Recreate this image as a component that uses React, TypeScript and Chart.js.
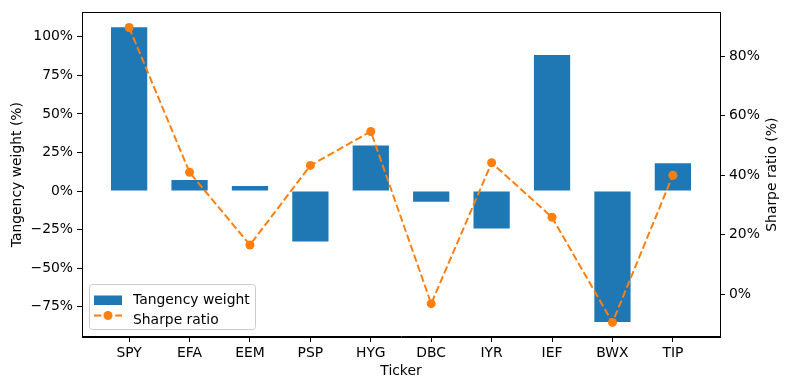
import React, { useEffect, useRef } from "react";
import { Chart, registerables } from "chart.js";

Chart.register(...registerables);

const categories = ["SPY", "EFA", "EEM", "PSP", "HYG", "DBC", "IYR", "IEF", "BWX", "TIP"];
const tangencyWeight = [106.2, 7.1, 3.2, -32.8, 29.6, -6.9, -24.3, 88.2, -85.0, 18.0];
const sharpeRatio = [89.6, 41.0, 16.6, 43.3, 54.7, -3.1, 44.2, 25.9, -9.4, 40.0];
const leftTicks = [-75, -50, -25, 0, 25, 50, 75, 100];
const rightTicks = [0, 20, 40, 60, 80];

const FONT = "'DejaVu Sans', sans-serif";
const FS = 13.9;
const BLUE = "#1f77b4";
const ORANGE = "#ff7f0e";

const fmtPct = (v: number) => (v < 0 ? "\u2212" + Math.abs(v) : String(v)) + "%";

const extrasPlugin = {
  id: "extras",
  afterDatasetsDraw(chart: any) {
    const { ctx, chartArea } = chart;
    const { left, right, top, bottom } = chartArea;
    ctx.save();
    // frame
    ctx.strokeStyle = "#000";
    ctx.lineWidth = 1;
    ctx.strokeRect(Math.round(left) + 0.5, Math.round(top) + 0.5, Math.round(right - left), Math.round(bottom - top));
    // right title (bottom-to-top)
    ctx.fillStyle = "#000";
    ctx.font = `${FS}px ${FONT}`;
    ctx.textAlign = "center";
    ctx.textBaseline = "middle";
    ctx.translate(772, (top + bottom) / 2);
    ctx.rotate(-Math.PI / 2);
    ctx.fillText("Sharpe ratio (%)", 0, 0);
    ctx.restore();

    // legend
    ctx.save();
    const bx = left + 7.5, by = bottom - 52.5, bw = 166, bh = 45;
    ctx.beginPath();
    const r = 3;
    ctx.moveTo(bx + r, by);
    ctx.lineTo(bx + bw - r, by);
    ctx.arcTo(bx + bw, by, bx + bw, by + r, r);
    ctx.lineTo(bx + bw, by + bh - r);
    ctx.arcTo(bx + bw, by + bh, bx + bw - r, by + bh, r);
    ctx.lineTo(bx + r, by + bh);
    ctx.arcTo(bx, by + bh, bx, by + bh - r, r);
    ctx.lineTo(bx, by + r);
    ctx.arcTo(bx, by, bx + r, by, r);
    ctx.closePath();
    ctx.fillStyle = "rgba(255,255,255,0.8)";
    ctx.fill();
    ctx.strokeStyle = "#cccccc";
    ctx.lineWidth = 1;
    ctx.stroke();

    const sx = bx + 4.5;
    ctx.fillStyle = BLUE;
    ctx.fillRect(sx, by + 11, 28, 9.5);
    ctx.strokeStyle = ORANGE;
    ctx.lineWidth = 2;
    ctx.setLineDash([7.4, 3.2]);
    ctx.beginPath();
    ctx.moveTo(sx, by + 31);
    ctx.lineTo(sx + 28, by + 31);
    ctx.stroke();
    ctx.setLineDash([]);
    ctx.fillStyle = ORANGE;
    ctx.beginPath();
    ctx.arc(sx + 14, by + 31, 4.5, 0, Math.PI * 2);
    ctx.fill();

    ctx.fillStyle = "#000";
    ctx.font = `${FS}px ${FONT}`;
    ctx.textAlign = "left";
    ctx.textBaseline = "middle";
    ctx.fillText("Tangency weight", sx + 39, by + 16);
    ctx.fillText("Sharpe ratio", sx + 39, by + 36);
    ctx.restore();
  },
};

export default function App() {
  const ref = useRef<HTMLCanvasElement | null>(null);

  useEffect(() => {
    document.body.style.margin = "0";
    if (!ref.current) return;
    const chart = new Chart(ref.current, {
      type: "bar",
      data: {
        datasets: [
          {
            type: "bar",
            label: "Tangency weight",
            data: tangencyWeight.map((v, i) => ({ x: i, y: v })),
            backgroundColor: BLUE,
            borderWidth: 0,
            barPercentage: 0.6,
            categoryPercentage: 1,
            xAxisID: "x",
            yAxisID: "y",
            order: 2,
          } as any,
          {
            type: "line",
            label: "Sharpe ratio",
            data: sharpeRatio.map((v, i) => ({ x: i, y: v })),
            borderColor: ORANGE,
            backgroundColor: ORANGE,
            borderWidth: 2,
            borderDash: [7.4, 3.2],
            pointRadius: 4.5,
            pointBackgroundColor: ORANGE,
            pointBorderWidth: 0,
            tension: 0,
            xAxisID: "x",
            yAxisID: "y2",
            order: 1,
          } as any,
        ],
      },
      options: {
        animation: false,
        responsive: false,
        maintainAspectRatio: false,
        layout: { padding: { top: 10, left: 0, right: 0, bottom: 0 } },
        plugins: { legend: { display: false }, tooltip: { enabled: false } },
        scales: {
          x: {
            type: "linear",
            min: -0.78,
            max: 9.78,
            offset: false,
            afterBuildTicks: (s: any) => {
              s.ticks = categories.map((_, i) => ({ value: i }));
            },
            afterFit: (s: any) => {
              s.height = 53;
            },
            ticks: {
              callback: (v: any) => categories[v as number] ?? "",
              color: "#000",
              font: { family: FONT, size: FS },
              padding: 3,
              maxRotation: 0,
              autoSkip: false,
            },
            grid: { display: true, drawOnChartArea: false, tickLength: 5, color: "#000", offset: false },
            border: { display: true, color: "#000" },
            title: {
              display: true,
              text: "Ticker",
              color: "#000",
              font: { family: FONT, size: FS },
              padding: { top: 0, bottom: 10 },
            },
          },
          y: {
            type: "linear",
            position: "left",
            min: -94.7,
            max: 115.9,
            afterBuildTicks: (s: any) => {
              s.ticks = leftTicks.map((v) => ({ value: v }));
            },
            afterFit: (s: any) => {
              s.width = 82;
            },
            ticks: {
              callback: (v: any) => fmtPct(v as number),
              color: "#000",
              font: { family: FONT, size: FS },
              padding: 4,
            },
            grid: { display: true, drawOnChartArea: false, tickLength: 5, color: "#000" },
            border: { display: true, color: "#000" },
            title: {
              display: true,
              text: "Tangency weight (%)",
              color: "#000",
              font: { family: FONT, size: FS },
              padding: { top: 9, bottom: 0 },
            },
          },
          y2: {
            type: "linear",
            position: "right",
            min: -14.3,
            max: 94.7,
            afterBuildTicks: (s: any) => {
              s.ticks = rightTicks.map((v) => ({ value: v }));
            },
            afterFit: (s: any) => {
              s.width = 70;
            },
            ticks: {
              callback: (v: any) => fmtPct(v as number),
              color: "#000",
              font: { family: FONT, size: FS },
              padding: 4,
            },
            grid: { display: true, drawOnChartArea: false, tickLength: 5, color: "#000" },
            border: { display: true, color: "#000" },
          },
        },
      } as any,
      plugins: [extrasPlugin],
    });
    return () => chart.destroy();
  }, []);

  return (
    <div style={{ width: 790, height: 390 }}>
      <canvas ref={ref} width={790} height={390} style={{ display: "block" }} />
    </div>
  );
}
